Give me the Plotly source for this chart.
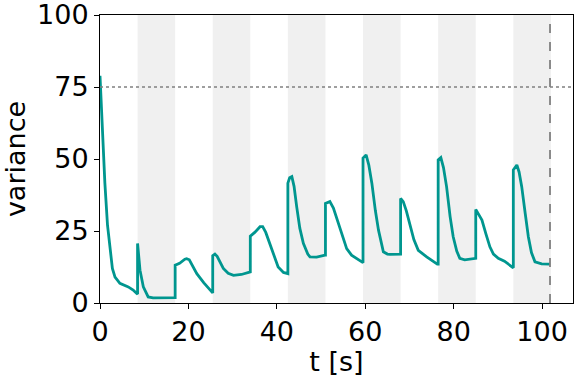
import plotly.graph_objects as go

t = [0, 0.3, 1.1, 1.7, 2.3, 2.8, 3.4, 4.5, 6.4, 7.5, 8.3, 8.5,
     8.5, 9.05, 9.8, 10.9, 12, 17,
     17, 18, 19.2, 19.6, 20.2, 21, 21.9, 23.5, 25.4, 25.5,
     25.5, 26, 26.5, 27.9, 29, 30.2, 32, 33.9, 34,
     34, 35, 36.2, 36.8, 37.5, 38.5, 40.3, 41.5, 42.4, 42.5,
     42.5, 42.9, 43.4, 43.9, 44.5, 45.2, 46, 47, 47.5, 49, 50.9, 51,
     51, 52, 52.8, 53.9, 55, 55.8, 56.9, 58, 59.4, 59.5,
     59.5, 60.2, 60.8, 61.5, 62.3, 63, 64.1, 65, 65.6, 67.9, 68,
     68, 68.6, 69.3, 70.1, 71, 72, 73.9, 76.3, 76.5,
     76.5, 77.1, 77.7, 78.4, 79.2, 79.9, 80.7, 81.4, 82.5, 84.8, 85,
     85, 85.6, 86.4, 87.3, 88.2, 89, 90.1, 91.5, 93.3, 93.5,
     93.5, 94.3, 94.8, 95.4, 96.2, 96.9, 97.6, 98.4, 99.9, 101.8]
variance = [78.9, 68, 41.7, 27, 18.3, 12, 9, 6.8, 5.6, 4.5, 3.3, 3.1,
            20.7, 11.4, 5.6, 2.1, 1.8, 1.9,
            13.1, 13.8, 15.2, 15.4, 15, 12.5, 10.2, 7, 3.5, 3.5,
            16.4, 17, 16.2, 12, 10.3, 9.6, 9.9, 10.8, 10.8,
            23.2, 24.5, 26.5, 26.5, 24.5, 20.1, 12.5, 10.6, 10.2, 10.2,
            41.6, 43.5, 43.9, 40.5, 33.4, 26, 20.7, 17, 16, 15.9, 16.6, 16.6,
            34.6, 35.2, 33, 27.6, 22, 18.9, 16.6, 15.5, 14, 14,
            50.3, 51.4, 48, 41.6, 32, 25.3, 17.8, 17, 16.9, 17, 17,
            36.3, 35.2, 32, 27.6, 22, 18.3, 16, 13.5, 13.5,
            49.7, 50.5, 47, 40.4, 30, 23, 18, 15.5, 15, 15.5, 15.5,
            32.5, 31, 28.8, 24, 19.5, 17, 15.5, 14.5, 12.2, 12.2,
            46.2, 47.9, 45.5, 40.4, 31, 23, 17.5, 14.3, 13.6, 13.5]

band_starts = [8.5, 25.5, 42.5, 59.5, 76.5, 93.5]
band_ends = [17, 34, 51, 68, 85, 102]
threshold = 75
t_end = 101.8

x_ticks = [0, 20, 40, 60, 80, 100]
y_ticks = [0, 25, 50, 75, 100]

fig = go.Figure()
for s, e in zip(band_starts, band_ends):
    fig.add_vrect(x0=s, x1=e, fillcolor="#f0f0f0", line_width=0, layer="below")

fig.add_trace(go.Scatter(x=t, y=variance, mode="lines",
                         line=dict(color="#00968f", width=2.8), showlegend=False))

fig.add_hline(y=threshold, line=dict(color="#808080", width=1.6, dash="dot"))
fig.add_vline(x=t_end, line=dict(color="#808080", width=1.8, dash="dash"))

axis_common = dict(showline=True, linecolor="black", linewidth=1, mirror=True,
                   ticks="outside", ticklen=5, tickcolor="black", showgrid=False,
                   zeroline=False, automargin=False, ticklabeloverflow="allow",
                   tickfont=dict(size=27, color="black"))
fig.update_xaxes(range=[0, 107], tickvals=x_ticks,
                 title=dict(text="t [s]", font=dict(size=27, color="black"), standoff=4),
                 **axis_common)
fig.update_yaxes(range=[0, 100], tickvals=y_ticks,
                 title=dict(text="variance", font=dict(size=27, color="black"), standoff=8),
                 **axis_common)

fig.update_layout(width=581, height=377, margin=dict(l=100, r=8, t=15, b=74),
                  plot_bgcolor="white", paper_bgcolor="white",
                  font=dict(family="DejaVu Sans", color="black"))
fig.write_html("out.html", config={"displayModeBar": False},
               post_script="document.body.style.margin='0';")
